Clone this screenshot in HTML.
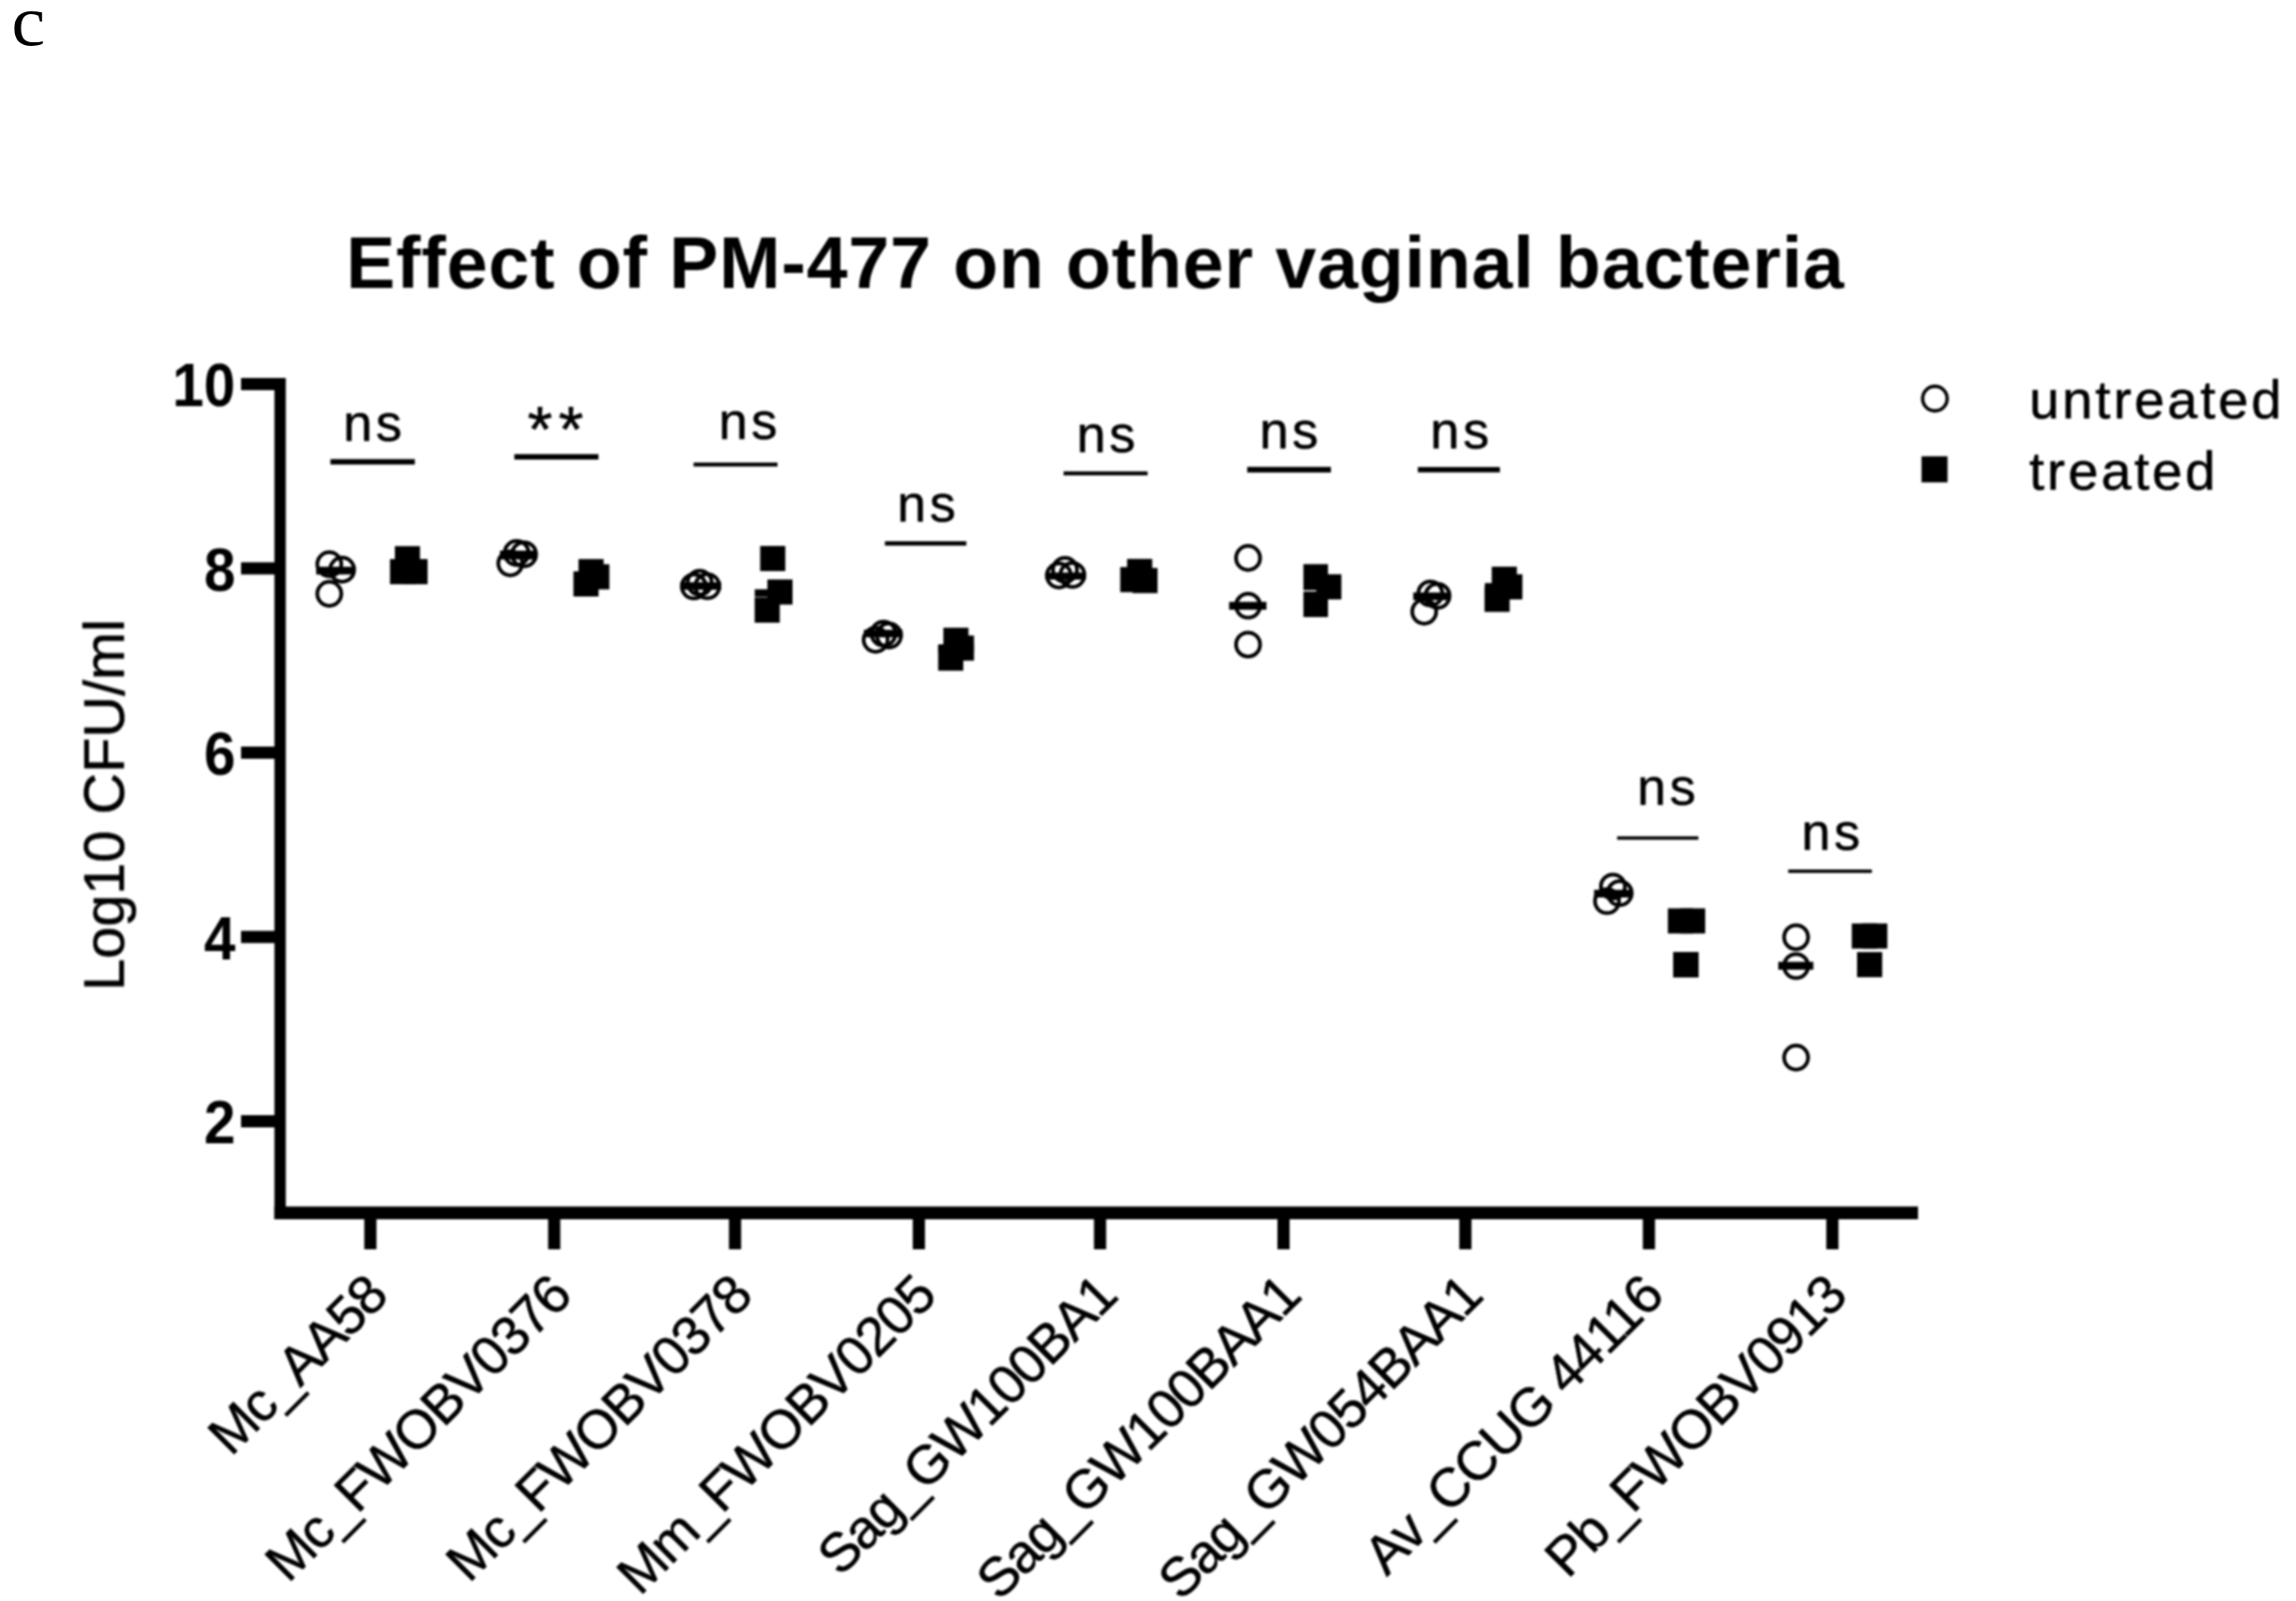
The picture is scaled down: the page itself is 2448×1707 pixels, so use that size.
<!DOCTYPE html>
<html><head><meta charset="utf-8"><title>Effect of PM-477 on other vaginal bacteria</title>
<style>
html,body{margin:0;padding:0;background:#fff;}
svg{display:block;}
text{font-family:"Liberation Sans",sans-serif;fill:#000;}
.b{font-weight:bold;}
.r{stroke:#000;stroke-width:0.6px;stroke-linejoin:round;}
.panel{font-family:"Liberation Serif",serif;font-weight:normal;}
</style></head><body>
<svg width="2448" height="1707" viewBox="0 0 2448 1707">
<rect width="2448" height="1707" fill="#fff"/>
<text class="panel" transform="translate(12.2,48) scale(1.06,1)" font-size="76.5">c</text>
<defs><filter id="soft" x="0" y="0" width="100%" height="100%" filterUnits="userSpaceOnUse" color-interpolation-filters="sRGB"><feGaussianBlur stdDeviation="0.8"/></filter></defs>
<g filter="url(#soft)">
<text class="b" x="369" y="306.9" font-size="78.5" textLength="1597" lengthAdjust="spacing">Effect of PM-477 on other vaginal bacteria</text>
<g fill="#000">
<rect x="292.6" y="403" width="12.1" height="897"/>
<rect x="292.6" y="1286.4" width="1752.4" height="13.6"/>
<rect x="257" y="403.0" width="36" height="13"/>
<rect x="257" y="599.5" width="36" height="13"/>
<rect x="257" y="796.0" width="36" height="13"/>
<rect x="257" y="992.5" width="36" height="13"/>
<rect x="257" y="1189.0" width="36" height="13"/>
<rect x="388.4" y="1299" width="13" height="33"/>
<rect x="584.4" y="1299" width="13" height="33"/>
<rect x="777.2" y="1299" width="13" height="33"/>
<rect x="973.2" y="1299" width="13" height="33"/>
<rect x="1166.4" y="1299" width="13" height="33"/>
<rect x="1362.0" y="1299" width="13" height="33"/>
<rect x="1555.9" y="1299" width="13" height="33"/>
<rect x="1751.6" y="1299" width="13" height="33"/>
<rect x="1947.2" y="1299" width="13" height="33"/>
</g>
<text class="b" transform="translate(251,433.1) scale(0.93,1)" font-size="65" text-anchor="end">10</text>
<text class="b" transform="translate(251,629.6) scale(0.93,1)" font-size="65" text-anchor="end">8</text>
<text class="b" transform="translate(251,826.1) scale(0.93,1)" font-size="65" text-anchor="end">6</text>
<text class="b" transform="translate(251,1022.6) scale(0.93,1)" font-size="65" text-anchor="end">4</text>
<text class="b" transform="translate(251,1219.1) scale(0.93,1)" font-size="65" text-anchor="end">2</text>
<text class="r" transform="translate(132,1056.5) rotate(-90)" font-size="61.5" letter-spacing="0">Log10 CFU/ml</text>
<text class="r" transform="translate(415.4,1384.5) rotate(-45)" font-size="58" letter-spacing="-1.75" text-anchor="end">Mc_AA58</text>
<text class="r" transform="translate(611.4,1384.5) rotate(-45)" font-size="58" letter-spacing="-1.75" text-anchor="end">Mc_FWOBV0376</text>
<text class="r" transform="translate(804.2,1384.5) rotate(-45)" font-size="58" letter-spacing="-1.75" text-anchor="end">Mc_FWOBV0378</text>
<text class="r" transform="translate(1000.2,1384.5) rotate(-45)" font-size="58" letter-spacing="-1.75" text-anchor="end">Mm_FWOBV0205</text>
<text class="r" transform="translate(1193.4,1384.5) rotate(-45)" font-size="58" letter-spacing="-1.75" text-anchor="end">Sag_GW100BA1</text>
<text class="r" transform="translate(1389.0,1384.5) rotate(-45)" font-size="58" letter-spacing="-1.75" text-anchor="end">Sag_GW100BAA1</text>
<text class="r" transform="translate(1582.9,1384.5) rotate(-45)" font-size="58" letter-spacing="-1.75" text-anchor="end">Sag_GW054BAA1</text>
<text class="r" transform="translate(1775.6,1384.5) rotate(-45)" font-size="58" letter-spacing="-1.75" text-anchor="end">Av_CCUG 44116</text>
<text class="r" transform="translate(1971.2,1384.5) rotate(-45)" font-size="58" letter-spacing="-1.75" text-anchor="end">Pb_FWOBV0913</text>
<circle cx="2063" cy="425" r="13.1" fill="none" stroke="#000" stroke-width="3.6"/>
<rect x="2048.7" y="486.5" width="27.8" height="27.8"/>
<text class="r" x="2163.5" y="446.2" font-size="58" letter-spacing="3">untreated</text>
<text class="r" x="2163.5" y="521.7" font-size="58" letter-spacing="3">treated</text>
<rect x="352.3" y="489.50" width="90.0" height="5.8"/>
<text class="r" x="399.3" y="470" font-size="55.5" letter-spacing="4" text-anchor="middle">ns</text>
<rect x="548.4" y="484.20" width="89.7" height="5.8"/>
<text class="r" x="562.5 595.6" y="481" font-size="68">**</text>
<rect x="739.5" y="493.20" width="89.5" height="4.2"/>
<text class="r" x="799.5" y="468" font-size="55.5" letter-spacing="4" text-anchor="middle">ns</text>
<rect x="943.5" y="577.10" width="86.8" height="4.6"/>
<text class="r" x="989.7" y="555.5" font-size="55.5" letter-spacing="4" text-anchor="middle">ns</text>
<rect x="1134" y="502.60" width="89.6" height="4.2"/>
<text class="r" x="1181.2" y="482.1" font-size="55.5" letter-spacing="4" text-anchor="middle">ns</text>
<rect x="1329.8" y="497.80" width="89.2" height="6"/>
<text class="r" x="1376.3" y="477.8" font-size="55.5" letter-spacing="4" text-anchor="middle">ns</text>
<rect x="1511.7" y="497.95" width="87.5" height="5.7"/>
<text class="r" x="1558.4" y="477.8" font-size="55.5" letter-spacing="4" text-anchor="middle">ns</text>
<rect x="1724.2" y="891.70" width="86.6" height="3.6"/>
<text class="r" x="1778.8" y="857.8" font-size="55.5" letter-spacing="4" text-anchor="middle">ns</text>
<rect x="1906.6" y="927.10" width="89.2" height="3.6"/>
<text class="r" x="1954.0" y="905.6" font-size="55.5" letter-spacing="4" text-anchor="middle">ns</text>
<circle cx="351.1" cy="601.6" r="12.8" fill="none" stroke="#000" stroke-width="4"/>
<circle cx="364.8" cy="607.4" r="12.8" fill="none" stroke="#000" stroke-width="4"/>
<circle cx="351.1" cy="633.1" r="12.8" fill="none" stroke="#000" stroke-width="4"/>
<rect x="337.1" y="604.30" width="39.4" height="8.2"/>
<rect x="421.0" y="582.3" width="26.8" height="26.8"/>
<rect x="415.8" y="596.1" width="26.8" height="26.8"/>
<rect x="429.1" y="596.1" width="26.8" height="26.8"/>
<circle cx="550.8" cy="589.6" r="12.8" fill="none" stroke="#000" stroke-width="4"/>
<circle cx="558.8" cy="591" r="12.8" fill="none" stroke="#000" stroke-width="4"/>
<circle cx="544.1" cy="600.6" r="12.8" fill="none" stroke="#000" stroke-width="4"/>
<rect x="533" y="587.10" width="39.5" height="9.4"/>
<rect x="616.8" y="596.1" width="26.8" height="26.8"/>
<rect x="622.9" y="601.6" width="26.8" height="26.8"/>
<rect x="611.4" y="609.2" width="26.8" height="26.8"/>
<circle cx="739.8" cy="625.3" r="12.8" fill="none" stroke="#000" stroke-width="4"/>
<circle cx="746" cy="621.2" r="12.8" fill="none" stroke="#000" stroke-width="4"/>
<circle cx="754.2" cy="625" r="12.8" fill="none" stroke="#000" stroke-width="4"/>
<rect x="725.5" y="620.80" width="43.5" height="8.0"/>
<rect x="810.5" y="582.1" width="26.8" height="26.8"/>
<rect x="818.2" y="617.8" width="26.8" height="26.8"/>
<rect x="804.6" y="637.1" width="26.8" height="26.8"/>
<rect x="804.7" y="628.30" width="40.3" height="8.2"/>
<circle cx="933.6" cy="682.1" r="12.8" fill="none" stroke="#000" stroke-width="4"/>
<circle cx="942" cy="675.5" r="12.8" fill="none" stroke="#000" stroke-width="4"/>
<circle cx="947.9" cy="677.6" r="12.8" fill="none" stroke="#000" stroke-width="4"/>
<rect x="921" y="671.50" width="41.3" height="8.0"/>
<rect x="1005.8" y="669.3" width="26.8" height="26.8"/>
<rect x="1011.7" y="677.6" width="26.8" height="26.8"/>
<rect x="1000.3" y="688.3" width="26.8" height="26.8"/>
<rect x="1000.4" y="687.00" width="37.8" height="8.0"/>
<circle cx="1129" cy="613.6" r="12.8" fill="none" stroke="#000" stroke-width="4"/>
<circle cx="1135.5" cy="607.5" r="12.8" fill="none" stroke="#000" stroke-width="4"/>
<circle cx="1143.4" cy="613" r="12.8" fill="none" stroke="#000" stroke-width="4"/>
<rect x="1114.7" y="610.45" width="43.0" height="7.5"/>
<rect x="1201.7" y="595.9" width="26.8" height="26.8"/>
<rect x="1194.4" y="604.6" width="26.8" height="26.8"/>
<rect x="1207.4" y="605.6" width="26.8" height="26.8"/>
<circle cx="1330.7" cy="594.9" r="12.8" fill="none" stroke="#000" stroke-width="4"/>
<circle cx="1330.7" cy="645.8" r="12.8" fill="none" stroke="#000" stroke-width="4"/>
<circle cx="1330.7" cy="687.2" r="12.8" fill="none" stroke="#000" stroke-width="4"/>
<rect x="1310.5" y="641.70" width="39.8" height="8.4"/>
<rect x="1389.7" y="601.5" width="26.2" height="27.7"/>
<rect x="1403.4" y="612.3" width="26.8" height="26.8"/>
<rect x="1389.7" y="630.7" width="26.2" height="27.2"/>
<circle cx="1525" cy="632.8" r="12.8" fill="none" stroke="#000" stroke-width="4"/>
<circle cx="1532.7" cy="635.3" r="12.8" fill="none" stroke="#000" stroke-width="4"/>
<circle cx="1518.5" cy="652.1" r="12.8" fill="none" stroke="#000" stroke-width="4"/>
<rect x="1506.8" y="631.70" width="39.9" height="8.2"/>
<rect x="1590.5" y="604.2" width="26.8" height="26.8"/>
<rect x="1596.4" y="612.3" width="26.8" height="26.8"/>
<rect x="1582.8" y="625.6" width="26.8" height="26.8"/>
<rect x="1583.1" y="621.70" width="39.9" height="8.0"/>
<circle cx="1719.7" cy="945.2" r="12.8" fill="none" stroke="#000" stroke-width="4"/>
<circle cx="1726.9" cy="952.3" r="12.8" fill="none" stroke="#000" stroke-width="4"/>
<circle cx="1713.4" cy="960.8" r="12.8" fill="none" stroke="#000" stroke-width="4"/>
<rect x="1699.6" y="948.70" width="41.5" height="8.2"/>
<rect x="1778.3" y="968.5" width="26.8" height="26.8"/>
<rect x="1791.3" y="968.5" width="26.8" height="26.8"/>
<rect x="1783.9" y="1015.0" width="27.2" height="27.2"/>
<circle cx="1915" cy="999.2" r="12.8" fill="none" stroke="#000" stroke-width="4"/>
<circle cx="1915" cy="1030" r="12.8" fill="none" stroke="#000" stroke-width="4"/>
<circle cx="1915" cy="1127.6" r="12.8" fill="none" stroke="#000" stroke-width="4"/>
<rect x="1896" y="1025.50" width="37.4" height="8.4"/>
<rect x="1974.4" y="984.6" width="26.8" height="26.8"/>
<rect x="1985.5" y="984.6" width="26.8" height="26.8"/>
<rect x="1980.0" y="1015.1" width="26.8" height="26.8"/>
</g>
</svg>
</body></html>
